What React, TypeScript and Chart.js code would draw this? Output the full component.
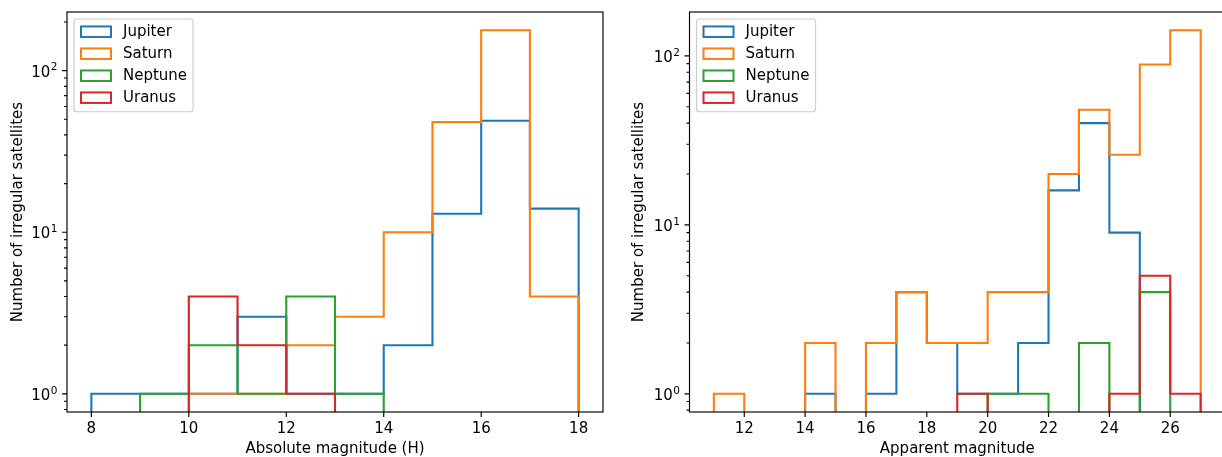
import { useEffect, useRef } from 'react';
import { Chart, registerables } from 'chart.js';

Chart.register(...registerables);

// ---------- data ----------
const seriesNames = ['Jupiter', 'Saturn', 'Neptune', 'Uranus'];
const seriesColors = ['#1f77b4', '#ff7f0e', '#2ca02c', '#d62728'];

// Left panel: absolute magnitude (H), bin edges 8..18
const absEdges = [8, 9, 10, 11, 12, 13, 14, 15, 16, 17, 18];
const absJupiter = [1, 1, 1, 3, 1, 1, 2, 13, 49, 14];
const absSaturn = [0, 0, 1, 1, 2, 3, 10, 48, 178, 4];
const absNeptune = [0, 1, 2, 1, 4, 1, 0, 0, 0, 0];
const absUranus = [0, 0, 4, 2, 1, 0, 0, 0, 0, 0];
const absXTicks = [8, 10, 12, 14, 16, 18];

// Right panel: apparent magnitude, bin edges 11..27
const appEdges = [11, 12, 13, 14, 15, 16, 17, 18, 19, 20, 21, 22, 23, 24, 25, 26, 27];
const appJupiter = [0, 0, 0, 1, 0, 1, 4, 2, 1, 1, 2, 16, 40, 9, 0, 0];
const appSaturn = [1, 0, 0, 2, 0, 2, 4, 2, 2, 4, 4, 20, 48, 26, 89, 142];
const appNeptune = [0, 0, 0, 0, 0, 0, 0, 0, 0, 1, 1, 0, 2, 0, 4, 0];
const appUranus = [0, 0, 0, 0, 0, 0, 0, 0, 1, 0, 0, 0, 0, 1, 5, 1];
const appXTicks = [12, 14, 16, 18, 20, 22, 24, 26];

const yLabel = 'Number of irregular satellites';
const absXLabel = 'Absolute magnitude (H)';
const appXLabel = 'Apparent magnitude';

// ---------- helpers ----------
const FONT_FAMILY = '"DejaVu Sans", "Liberation Sans", sans-serif';
const FS = 15;

function stepPoints(edges: number[], counts: number[], floor: number) {
  const pts: { x: number; y: number }[] = [{ x: edges[0], y: floor }];
  counts.forEach((c, i) => {
    const y = c > 0 ? c : floor;
    pts.push({ x: edges[i], y }, { x: edges[i + 1], y });
  });
  pts.push({ x: edges[edges.length - 1], y: floor });
  return pts;
}

function logLimits(all: number[][]) {
  const mx = Math.max(...all.flat());
  const L = Math.log10(mx);
  const m = 0.05 * L;
  return { min: Math.pow(10, -m), max: Math.pow(10, L + m) };
}

function linLimits(edges: number[]) {
  const a = edges[0];
  const b = edges[edges.length - 1];
  const m = 0.05 * (b - a);
  return { min: a - m, max: b + m };
}

function logTickValues(min: number, max: number) {
  const out: { value: number; major: boolean; exp: number }[] = [];
  for (let e = Math.floor(Math.log10(min)); e <= Math.ceil(Math.log10(max)); e++) {
    for (let k = 1; k <= 9; k++) {
      const v = k * Math.pow(10, e);
      if (v >= min && v <= max) out.push({ value: v, major: k === 1, exp: e });
    }
  }
  return out;
}

const framePlugin = {
  id: 'mplFrame',
  afterDraw(chart: any) {
    const { ctx, chartArea: a, scales } = chart;
    ctx.save();
    ctx.strokeStyle = '#000';
    ctx.lineWidth = 1.15;
    ctx.beginPath();
    scales.x.ticks.forEach((t: any) => {
      const px = scales.x.getPixelForValue(t.value);
      ctx.moveTo(px, a.bottom);
      ctx.lineTo(px, a.bottom + 5);
    });
    scales.y.ticks.forEach((t: any) => {
      const py = scales.y.getPixelForValue(t.value);
      const len = t.major ? 5 : 3;
      ctx.moveTo(a.left - len, py);
      ctx.lineTo(a.left, py);
    });
    ctx.stroke();
    ctx.strokeRect(a.left, a.top, a.right - a.left, a.bottom - a.top);

    // y tick labels: 10 with superscript exponent
    ctx.fillStyle = '#000';
    ctx.textBaseline = 'alphabetic';
    ctx.textAlign = 'right';
    scales.y.ticks.forEach((t: any) => {
      if (!t.major) return;
      const py = scales.y.getPixelForValue(t.value);
      const xr = a.left - 9.5;
      const expText = String(t.exp);
      ctx.font = `${FS * 0.7}px ${FONT_FAMILY}`;
      const ew = ctx.measureText(expText).width;
      ctx.fillText(expText, xr, py - 0.2);
      ctx.font = `${FS}px ${FONT_FAMILY}`;
      ctx.fillText('10', xr - ew - 0.5, py + 6);
    });

    // legend
    const ds = chart.data.datasets;
    ctx.font = `${FS}px ${FONT_FAMILY}`;
    const maxW = Math.max(...ds.map((d: any) => ctx.measureText(d.label).width));
    const fx = a.left + 7;
    const fy = a.top + 7;
    const fw = 49 + maxW + 6;
    const fh = 92.7;
    ctx.beginPath();
    if (ctx.roundRect) ctx.roundRect(fx, fy, fw, fh, 3);
    else ctx.rect(fx, fy, fw, fh);
    ctx.fillStyle = 'rgba(255,255,255,0.8)';
    ctx.fill();
    ctx.strokeStyle = '#cccccc';
    ctx.lineWidth = 1.15;
    ctx.stroke();
    ds.forEach((d: any, i: number) => {
      const cy = fy + 12.7 + 22 * i;
      ctx.strokeStyle = d.borderColor;
      ctx.lineWidth = 2;
      ctx.strokeRect(fx + 7, cy - 5.25, 30, 10.5);
      ctx.fillStyle = '#000';
      ctx.textBaseline = 'middle';
      ctx.textAlign = 'left';
      ctx.fillText(d.label, fx + 49, cy + 0.5);
    });
    ctx.restore();
  },
};

function makeConfig(
  edges: number[],
  counts: number[][],
  xTicks: number[],
  xTitle: string,
  yAxisWidth: number,
  padRight: number,
  yTitlePad: number
) {
  const yl = logLimits(counts);
  const xl = linLimits(edges);
  const floor = yl.min / 100;
  const font = { family: FONT_FAMILY, size: FS };
  return {
    type: 'line',
    data: {
      datasets: counts.map((c, i) => ({
        label: seriesNames[i],
        data: stepPoints(edges, c, floor),
        borderColor: seriesColors[i],
        backgroundColor: seriesColors[i],
        borderWidth: 2.1,
        pointRadius: 0,
        fill: false,
        tension: 0,
        clip: 0,
        order: counts.length - i,
        borderJoinStyle: 'miter',
        borderCapStyle: 'butt',
      })),
    },
    options: {
      responsive: false,
      animation: false,
      devicePixelRatio: 1,
      events: [],
      layout: { padding: { left: 0, right: padRight, top: 12, bottom: 0 } },
      plugins: { legend: { display: false }, tooltip: { enabled: false } },
      scales: {
        x: {
          type: 'linear',
          min: xl.min,
          max: xl.max,
          afterBuildTicks: (s: any) => {
            s.ticks = xTicks.map((v) => ({ value: v }));
          },
          afterFit: (s: any) => {
            s.height = 45;
            s.paddingLeft = 0;
            s.paddingRight = 0;
          },
          grid: { display: false, drawTicks: false },
          border: { display: false },
          ticks: {
            padding: 8,
            font,
            color: '#000',
            maxRotation: 0,
            autoSkip: false,
            callback: (v: any) => String(v),
          },
          title: { display: true, text: xTitle, font, color: '#000', padding: { top: 0, bottom: -1 } },
        },
        y: {
          type: 'logarithmic',
          min: yl.min,
          max: yl.max,
          afterBuildTicks: (s: any) => {
            s.ticks = logTickValues(yl.min, yl.max);
          },
          afterFit: (s: any) => {
            s.width = yAxisWidth;
            s.paddingTop = 0;
            s.paddingBottom = 0;
          },
          grid: { display: false, drawTicks: false },
          border: { display: false },
          ticks: { display: false },
          title: { display: true, text: yLabel, font, color: '#000', padding: { top: yTitlePad, bottom: 0 } },
        },
      },
    },
    plugins: [framePlugin],
  };
}

function Panel(props: { cfg: any; left: number; width: number }) {
  const ref = useRef<HTMLCanvasElement>(null);
  useEffect(() => {
    if (!ref.current) return;
    const chart = new Chart(ref.current, props.cfg);
    return () => chart.destroy();
  }, []);
  return (
    <div style={{ position: 'absolute', left: props.left, top: 0, width: props.width, height: 457 }}>
      <canvas ref={ref} width={props.width} height={457} style={{ width: props.width, height: 457, display: 'block' }} />
    </div>
  );
}

export default function App() {
  const leftCfg = makeConfig(absEdges, [absJupiter, absSaturn, absNeptune, absUranus], absXTicks, absXLabel, 67, 17, 9);
  const rightCfg = makeConfig(appEdges, [appJupiter, appSaturn, appNeptune, appUranus], appXTicks, appXLabel, 69.5, 15, 10.3);
  return (
    <div
      style={{
        position: 'absolute',
        left: 0,
        top: 0,
        width: 1222,
        height: 457,
        overflow: 'hidden',
        background: '#fff',
      }}
    >
      <Panel cfg={leftCfg} left={0} width={620} />
      <Panel cfg={rightCfg} left={620} width={620} />
    </div>
  );
}
